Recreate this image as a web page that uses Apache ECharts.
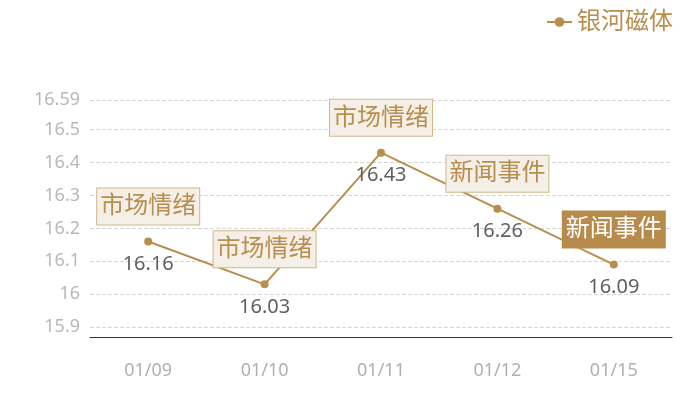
<!DOCTYPE html>
<html>
<head>
<meta charset="utf-8">
<script src="https://cdn.jsdelivr.net/npm/echarts@6/dist/echarts.min.js"></script>
<style>html,body{margin:0;padding:0;background:#fff}#c{width:700px;height:400px}</style>
</head>
<body>
<div id="c"></div>
<script>
var seriesName = '银河磁体';
var categories = ['01/09', '01/10', '01/11', '01/12', '01/15'];
var values = [16.16, 16.03, 16.43, 16.26, 16.09];
var annotations = ['市场情绪', '市场情绪', '市场情绪', '新闻事件', '新闻事件'];
var highlighted = [false, false, false, false, true];
var yMin = 15.87;
var yMax = 16.59;

var gold = '#b78e4e';
var font = "'Noto Sans', 'Noto Sans CJK SC', sans-serif";

var markData = categories.map(function (c, i) {
  var item = { coord: [c, values[i]], value: annotations[i] };
  if (highlighted[i]) {
    item.label = { color: '#ffffff', backgroundColor: '#b68b4b', borderColor: '#b68b4b' };
  }
  return item;
});

var chart = echarts.init(document.getElementById('c'));
chart.setOption({
  animation: false,
  textStyle: { fontFamily: font },
  legend: {
    data: [seriesName],
    right: 22,
    top: 5,
    itemWidth: 25,
    itemHeight: 12,
    itemGap: 8,
    textStyle: { color: gold, fontSize: 24, fontFamily: font }
  },
  grid: { left: 90, right: 28, top: 100, bottom: 63 },
  xAxis: {
    type: 'category',
    data: categories,
    boundaryGap: true,
    axisLine: { lineStyle: { color: '#333333', width: 1 } },
    axisTick: { show: false },
    axisLabel: { color: '#b0b0b0', fontSize: 18, margin: 25, fontFamily: font }
  },
  yAxis: {
    type: 'value',
    min: yMin,
    max: yMax,
    axisLine: { show: false },
    axisTick: { show: false },
    axisLabel: { color: '#b8b8b8', fontSize: 18, margin: 10, showMinLabel: false, fontFamily: font },
    splitLine: { lineStyle: { color: '#d6d6d6', type: 'dashed', width: 1 } }
  },
  series: [{
    name: seriesName,
    type: 'line',
    data: values,
    symbol: 'circle',
    symbolSize: 8,
    itemStyle: { color: gold },
    lineStyle: { color: gold, width: 2 },
    label: {
      show: true,
      position: 'bottom',
      distance: 9,
      color: '#606060',
      fontSize: 20,
      fontFamily: font
    },
    markPoint: {
      symbol: 'circle',
      symbolSize: 0,
      silent: true,
      label: {
        show: true,
        position: 'top',
        distance: 17,
        formatter: '{c}',
        color: '#b78e4e',
        fontSize: 24,
        lineHeight: 24,
        fontFamily: font,
        backgroundColor: '#f4efe7',
        borderColor: '#d2b68a',
        borderWidth: 1,
        padding: [6, 3, 6, 3]
      },
      data: markData
    }
  }]
});
</script>
</body>
</html>
